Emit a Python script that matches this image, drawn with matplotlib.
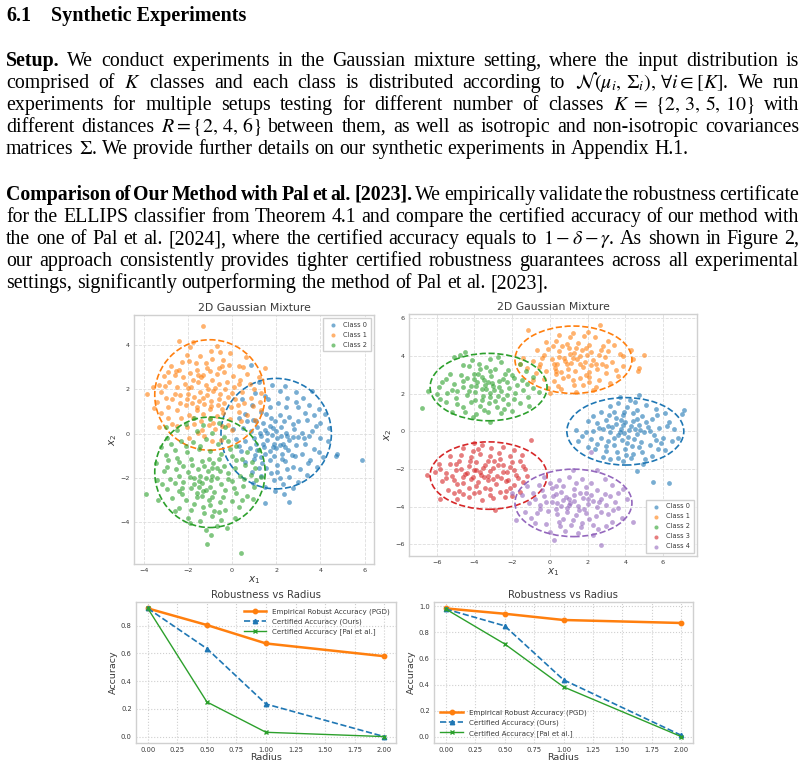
import numpy as np
import matplotlib
matplotlib.use('Agg')
import matplotlib.pyplot as plt
from matplotlib.patches import Ellipse

plt.rcParams['mathtext.fontset'] = 'stix'

W, H = 806, 770

# ---------------- page text ----------------
heading_num = '6.1'
heading = 'Synthetic Experiments'

para1 = [
    'Setup. We conduct experiments in the Gaussian mixture setting, where the input distribution is',
    r'comprised of $K$ classes and each class is distributed according to $\mathcal{N}(\mu_i,\, \Sigma_i),\, \forall i \in [K]$. We run',
    r'experiments for multiple setups testing for different number of classes $K\ =\ \{2,\, 3,\, 5,\, 10\}$ with',
    r'different distances $R = \{2,\, 4,\, 6\}$ between them, as well as isotropic and non-isotropic covariances',
    r'matrices $\Sigma$. We provide further details on our synthetic experiments in Appendix H.1.',
]
para1_bold = 1

para2 = [
    'Comparison of Our Method with Pal et al. [2023]. We empirically validate the robustness certificate',
    'for the ELLIPS classifier from Theorem 4.1 and compare the certified accuracy of our method with',
    r'the one of Pal et al. [2024], where the certified accuracy equals to $1 - \delta - \gamma$. As shown in Figure 2,',
    'our approach consistently provides tighter certified robustness guarantees across all experimental',
    'settings, significantly outperforming the method of Pal et al. [2023].',
]
para2_bold = 9

# ---------------- scatter data ----------------
left_class0 = [
    (0.85, 3.1), (1.2, 2.35), (1.8, 2.2), (2.4, 2.15), (1.05, 1.85), (1.5, 1.7), (2.9, 1.9), (3.6, 1.95),
    (3.2, 1.6), (3.0, 1.2), (2.5, 1.6), (2.1, 1.4), (1.7, 1.2), (1.3, 1.0), (0.9, 1.3), (0.6, 0.9),
    (3.5, 1.3), (3.95, 1.1), (4.2, 0.9), (0.3, 0.7), (0.95, 0.6), (1.4, 0.5), (1.75, 0.7), (2.15, 0.85),
    (2.6, 0.75), (3.0, 0.55), (3.4, 0.6), (3.8, 0.35), (0.5, 0.25), (0.85, 0.1), (1.15, 0.3), (1.5, 0.15),
    (1.85, 0.25), (2.2, 0.3), (2.45, 0.05), (2.8, 0.2), (3.15, 0.05), (3.5, -0.1), (4.0, -0.2), (4.35, -0.35),
    (0.2, -0.25), (0.6, -0.35), (1.0, -0.2), (1.3, -0.1), (1.6, -0.3), (1.8, -0.05), (2.05, -0.2), (2.3, -0.45),
    (2.6, -0.3), (2.9, -0.5), (3.3, -0.45), (3.7, -0.7), (0.4, -0.8), (0.8, -0.65), (1.15, -0.75), (1.45, -0.6),
    (1.7, -0.8), (2.0, -0.65), (2.25, -0.9), (2.55, -0.75), (2.85, -1.0), (3.15, -0.9), (3.55, -1.2), (4.1, -1.05),
    (4.7, -1.0), (4.75, -0.9), (5.9, -1.2), (0.6, -1.3), (1.0, -1.15), (1.35, -1.35), (1.7, -1.2), (2.05, -1.4),
    (2.4, -1.25), (2.75, -1.5), (3.1, -1.6), (3.4, -1.85), (0.9, -1.75), (1.3, -1.9), (1.75, -1.8), (2.15, -2.0),
    (2.6, -1.95), (3.0, -2.2), (1.5, -2.4), (1.95, -2.6), (2.3, -2.3), (2.75, -2.45), (2.6, -3.1), (1.5, -3.15),
    (1.9, -2.1), (1.2, -1.55), (1.6, 0.05), (1.9, -0.45), (2.2, -0.1), (1.4, -0.45), (3.0, -0.15), (2.45, 1.2),
    (3.85, -1.5), (1.1, 0.55), (1.55, 0.9), (1.95, 0.55), (2.35, 0.55), (2.75, 0.45), (1.25, 0.05), (1.7, 0.35),
    (2.0, 0.1), (2.5, -0.1), (2.75, -0.15), (1.1, -0.45), (1.5, -0.9), (1.85, -0.6), (2.15, -0.5), (2.4, -0.6),
    (2.7, -0.95), (1.3, -1.05), (1.9, -1.0), (2.25, -1.15), (1.55, -1.55), (2.5, -1.6), (0.7, 0.55), (0.3, -0.55),
    (3.3, 0.95), (3.7, 0.85), (4.0, 0.5), (3.6, 0.1), (3.25, -0.2), (3.45, -1.35), (0.95, -2.25), (2.35, -2.75),
    (2.9, 1.45), (1.65, 1.55), (2.15, 1.95), (0.45, 1.55), (3.95, -0.85), (4.4, 0.25), (2.05, -1.75), (1.05, -0.95),
    (0.05, 0.2),
]
left_class1 = [
    (-1.3, 4.85), (-2.4, 4.2), (-1.75, 4.15), (-2.05, 3.55), (-1.95, 3.3), (-2.25, 3.25), (-0.95, 3.75), (-0.55, 3.7),
    (-0.4, 3.35), (-0.9, 3.4), (-1.45, 3.5), (-1.2, 3.2), (-2.75, 3.05), (-2.55, 2.85), (-0.15, 3.1), (0.3, 3.05),
    (0.5, 3.0), (1.5, 2.95), (-3.1, 2.6), (-2.85, 2.35), (-3.3, 2.2), (-3.05, 2.15), (-3.6, 2.1), (-3.85, 1.8),
    (-3.2, 1.9), (-2.6, 2.65), (-2.2, 2.55), (-1.9, 2.75), (-1.6, 2.9), (-1.3, 2.65), (-1.0, 2.85), (-0.7, 2.7),
    (-0.35, 2.8), (0.05, 2.6), (0.35, 2.45), (0.8, 2.25), (1.0, 2.0), (1.3, 1.85), (-2.5, 2.1), (-2.15, 2.25),
    (-1.85, 2.1), (-1.55, 2.35), (-1.2, 2.2), (-0.9, 2.45), (-0.6, 2.25), (-0.25, 2.35), (0.1, 2.1), (0.45, 1.9),
    (-2.7, 1.55), (-2.35, 1.75), (-2.0, 1.8), (-1.7, 1.65), (-1.45, 1.9), (-1.15, 1.75), (-0.85, 1.95), (-0.55, 1.8),
    (-0.2, 1.65), (0.15, 1.55), (0.55, 1.4), (0.95, 1.25), (1.25, 1.45), (-2.9, 1.2), (-2.5, 1.05), (-2.1, 1.3),
    (-1.8, 1.4), (-1.5, 1.5), (-1.25, 1.35), (-0.95, 1.5), (-0.65, 1.3), (-0.35, 1.4), (-0.05, 1.2), (0.3, 1.0),
    (0.7, 0.85), (-3.2, 0.95), (-2.3, 0.7), (-1.95, 0.85), (-1.6, 1.05), (-1.3, 0.9), (-1.0, 1.1), (-0.7, 0.8),
    (-0.4, 0.95), (-0.1, 0.65), (0.4, 0.55), (-2.7, 0.45), (-2.05, 0.3), (-1.7, 0.45), (-1.4, 0.55), (-1.05, 0.4),
    (-0.75, 0.2), (-0.45, 0.35), (0.0, 0.15), (-1.95, -0.2), (-1.25, -0.1), (-0.9, -0.35), (-0.5, -0.3), (-1.55, 0.05),
    (-3.3, 0.3), (1.05, 0.6), (1.2, 2.55), (-0.7, 3.95), (-1.1, 2.0), (-0.75, 2.05), (-1.4, 2.55), (-1.75, 2.45),
    (-2.0, 2.05), (-1.6, 1.2), (-1.3, 1.6), (-0.95, 1.25), (-0.6, 1.55), (-0.3, 2.0), (0.0, 1.85), (-2.35, 1.4),
    (-2.6, 1.8), (-2.05, 1.55), (-1.0, 0.7), (-1.75, 0.7), (-0.45, 1.1), (0.25, 1.3), (-2.4, 2.9), (-1.15, 2.95),
    (-0.45, 3.05), (0.7, 2.7), (0.85, 1.6), (-3.0, 1.6), (-3.4, 1.45), (-2.9, 0.7), (-0.2, 0.4), (-1.35, 0.15),
    (-0.6, 2.95), (-1.65, 3.2), (-2.9, 2.8), (0.65, 3.45), (-0.1, 3.65), (-1.9, 3.9), (-2.5, 0.35), (0.3, 2.25),
    (-0.85, 0.5), (-1.55, 2.65), (1.3, 1.05), (-3.55, 1.15),
]
left_class2 = [
    (-1.7, 0.7), (-1.0, 0.65), (-0.6, 0.5), (-2.1, 0.45), (-1.3, 0.4), (-0.3, 0.3), (-2.5, 0.15), (-1.6, 0.1),
    (-0.9, 0.05), (-3.0, 0.3), (-2.95, -0.2), (-2.3, -0.35), (-1.75, -0.4), (-1.2, -0.25), (-0.65, -0.45), (-0.2, -0.35),
    (0.2, -0.55), (0.7, -0.85), (-3.2, -0.6), (-2.6, -0.75), (-2.05, -0.85), (-1.5, -0.7), (-1.0, -0.8), (-0.5, -0.9),
    (0.0, -1.0), (0.45, -1.15), (-3.45, -1.35), (-2.9, -1.2), (-2.4, -1.3), (-1.85, -1.15), (-1.35, -1.25), (-0.85, -1.35),
    (-0.35, -1.45), (0.15, -1.55), (0.6, -1.4), (1.05, -1.55), (-3.1, -1.7), (-2.55, -1.6), (-2.0, -1.75), (-1.55, -1.6),
    (-1.1, -1.7), (-0.7, -1.55), (-0.2, -1.8), (0.35, -1.9), (0.85, -1.85), (1.3, -1.95), (-3.4, -2.1), (-2.8, -2.05),
    (-2.2, -2.2), (-1.7, -2.0), (-1.35, -2.25), (-0.95, -2.1), (-0.5, -2.3), (0.0, -2.15), (0.5, -2.35), (1.0, -2.4),
    (-2.95, -2.5), (-2.4, -2.6), (-1.85, -2.45), (-1.5, -2.4), (-1.2, -2.55), (-0.8, -2.65), (-0.3, -2.55), (0.2, -2.7),
    (0.7, -2.8), (-3.35, -3.0), (-2.7, -2.9), (-2.1, -3.0), (-1.6, -2.85), (-1.05, -3.0), (-0.55, -3.1), (0.0, -3.05),
    (-2.4, -3.35), (-1.85, -3.45), (-1.3, -3.3), (-0.8, -3.5), (-0.3, -3.45), (0.3, -3.3), (-2.0, -3.8), (-1.45, -3.95),
    (-0.9, -3.75), (-0.5, -3.9), (0.15, -3.8), (-1.2, -4.35), (-0.7, -4.2), (-3.9, -2.75), (-1.15, -5.0), (0.4, -5.4),
    (-1.45, -1.9), (-1.25, -1.45), (-0.9, -1.9), (-1.6, -2.7), (-1.35, -2.8), (-0.6, -1.15), (1.2, -0.75), (0.95, -2.95),
    (-2.2, -1.45), (-2.6, -3.5), (-1.2, -2.0), (-1.5, -2.15), (-0.7, -2.0), (-1.0, -2.4), (-1.7, -2.3), (-1.3, -2.6),
    (-0.9, -1.55), (-0.55, -1.7), (-1.8, -1.4), (-1.9, -1.95), (-2.4, -1.9), (-2.25, -2.45), (-0.2, -2.05), (0.2, -1.2),
    (-0.1, -0.7), (-1.45, -0.55), (-2.5, -1.1), (-2.95, -1.5), (-3.15, -2.3), (-2.6, -2.25), (-0.4, -2.85), (-0.9, -2.85),
    (-1.7, -3.2), (-1.0, -3.25), (0.1, -2.45), (0.55, -2.05), (0.9, -1.3), (-2.1, -0.55), (-2.75, -0.45), (-0.35, -0.15),
    (-1.25, -3.6), (-0.6, -3.55), (-2.25, -2.75), (-1.05, -1.15), (0.45, -3.0), (1.1, -2.1), (-3.0, -0.95), (-1.9, -4.05),
    (-0.25, -4.25), (-0.95, -4.6),
]
left_classes = [left_class0, left_class1, left_class2]
left_centers = [(2.0, 0.0), (-1.0, 1.75), (-1.0, -1.75)]
left_diam = 5.0

right_class0 = [
    (5.45, -2.7), (6.3, -2.75), (4.6, -2.1), (7.1, 1.15), (7.0, 0.9), (4.7, 1.95), (3.2, 1.35), (3.6, 1.5),
    (4.1, 1.3), (4.5, 1.55), (5.1, 1.4), (5.6, 1.2), (6.1, 0.95), (2.7, 1.0), (3.4, 1.05), (3.9, 0.85),
    (4.4, 0.95), (4.9, 0.8), (5.4, 0.65), (6.3, 0.5), (6.6, 0.1), (2.0, 0.55), (2.5, 0.45), (3.0, 0.6),
    (3.5, 0.4), (3.75, 0.15), (4.0, 0.5), (4.3, 0.3), (4.75, 0.35), (5.2, 0.25), (5.8, 0.2), (1.4, 0.05),
    (1.9, -0.05), (2.3, 0.0), (2.8, 0.1), (3.2, -0.05), (3.6, -0.2), (3.95, -0.1), (4.2, 0.05), (4.6, -0.15),
    (5.0, -0.05), (5.5, -0.2), (6.0, -0.35), (6.5, -0.5), (1.5, -0.5), (2.2, -0.4), (2.7, -0.35), (3.1, -0.5),
    (3.4, -0.7), (3.8, -0.45), (4.1, -0.6), (4.45, -0.4), (4.85, -0.55), (5.3, -0.7), (5.75, -0.95), (2.4, -0.95),
    (2.95, -1.05), (3.55, -1.1), (4.0, -0.95), (4.4, -1.2), (4.9, -1.1), (5.4, -1.3), (3.2, -1.45), (3.85, -1.6),
    (4.3, -1.4), (4.95, -1.75), (3.5, 0.7), (4.6, 0.65), (3.1, 0.3), (5.6, -0.45), (2.0, -0.85), (6.8, -0.35),
    (3.7, 1.8), (3.3, 0.25), (3.7, -0.05), (4.15, -0.3), (4.5, 0.15), (4.8, 0.05), (3.4, -0.35), (3.85, 0.35),
    (4.35, -0.8), (3.0, -0.8), (4.7, -0.85), (5.1, 0.5), (2.6, 0.2), (5.3, 0.0), (3.95, 1.05), (2.3, 0.8),
    (4.25, 1.65), (5.9, -0.6), (6.2, 0.3), (1.7, -0.25), (3.6, -1.4), (4.6, 1.15), (2.8, -1.35), (5.7, 0.85),
    (3.15, 0.85), (4.05, -1.25), (6.1, -1.0), (5.05, -1.45), (2.5, -0.65), (3.75, 0.6), (4.4, 0.55),
]
right_class1 = [
    (2.65, 5.65), (-1.15, 5.4), (5.0, 4.05), (4.7, 3.35), (4.65, 3.2), (4.4, 3.85), (0.5, 5.1), (1.2, 5.2),
    (1.8, 5.05), (2.4, 5.0), (-0.2, 4.75), (0.3, 4.8), (0.9, 4.65), (1.5, 4.7), (2.1, 4.6), (2.8, 4.55),
    (3.4, 4.6), (-0.7, 4.3), (-0.1, 4.35), (0.5, 4.25), (1.0, 4.4), (1.3, 4.15), (1.7, 4.3), (2.2, 4.2),
    (2.6, 4.05), (3.1, 4.25), (3.7, 4.1), (-1.4, 3.9), (-0.9, 3.75), (-0.4, 3.9), (0.1, 3.85), (0.4, 3.6),
    (0.75, 3.9), (1.1, 3.65), (1.45, 3.85), (1.85, 3.7), (2.3, 3.8), (2.75, 3.6), (3.3, 3.7), (3.9, 3.45),
    (-1.2, 3.35), (-0.6, 3.4), (-0.2, 3.2), (0.25, 3.35), (0.6, 3.15), (0.95, 3.3), (1.35, 3.2), (1.75, 3.4),
    (2.1, 3.15), (2.5, 3.3), (2.95, 3.1), (3.6, 2.95), (-0.9, 2.75), (-0.3, 2.8), (0.2, 2.65), (0.7, 2.85),
    (1.2, 2.7), (1.6, 2.85), (2.05, 2.6), (2.6, 2.7), (3.2, 2.55), (-0.1, 2.3), (0.6, 2.25), (1.4, 2.1),
    (2.3, 2.2), (0.9, 3.55), (1.6, 4.0), (0.3, 3.05), (1.9, 3.0), (2.9, 3.95), (-1.6, 3.6), (0.0, 2.05),
    (4.3, 4.3), (0.8, 3.75), (1.25, 3.9), (1.6, 3.55), (0.5, 3.95), (1.95, 4.05), (0.2, 3.55), (1.05, 4.1),
    (1.4, 4.45), (2.45, 3.55), (0.65, 4.55), (1.9, 4.45), (2.7, 4.3), (-0.5, 3.6), (3.5, 3.25), (2.1, 2.9),
    (0.95, 2.95), (0.45, 2.4), (1.75, 2.45), (-0.3, 4.05), (3.0, 3.45), (2.2, 3.5), (0.15, 4.55), (2.45, 2.35),
    (1.05, 5.0), (3.1, 4.8), (-0.75, 3.1), (0.35, 3.2), (1.3, 2.45), (3.85, 4.0), (2.0, 5.3),
]
right_class2 = [
    (-6.8, 1.25), (-6.45, 2.15), (-4.5, 4.2), (-4.75, 4.05), (-5.1, 3.95), (-3.2, 3.85), (-3.75, 3.6), (-2.6, 3.7),
    (-1.6, 3.6), (-4.3, 3.45), (-3.4, 3.4), (-2.9, 3.3), (-2.2, 3.25), (-1.25, 3.2), (-5.3, 3.05), (-4.7, 3.0),
    (-4.0, 3.05), (-3.6, 2.9), (-3.1, 2.95), (-2.5, 2.8), (-1.9, 2.85), (-0.9, 2.9), (-5.7, 2.6), (-5.1, 2.5),
    (-4.6, 2.65), (-4.2, 2.4), (-3.85, 2.6), (-3.45, 2.45), (-3.05, 2.55), (-2.7, 2.35), (-2.3, 2.6), (-1.75, 2.45),
    (-1.2, 2.5), (-0.6, 2.1), (-6.0, 2.0), (-5.45, 2.05), (-4.9, 2.15), (-4.4, 1.95), (-3.95, 2.1), (-3.55, 1.9),
    (-3.15, 2.05), (-2.75, 1.85), (-2.3, 1.95), (-1.85, 2.05), (-1.15, 1.8), (-5.5, 1.55), (-4.9, 1.45), (-4.2, 1.55),
    (-3.7, 1.35), (-3.25, 1.5), (-2.8, 1.3), (-2.2, 1.45), (-1.6, 1.5), (-5.2, 1.05), (-4.5, 1.0), (-3.9, 0.9),
    (-3.3, 1.05), (-2.6, 0.95), (-2.0, 1.1), (-3.2, 0.5), (-4.1, 0.75), (-3.4, 2.25), (-2.95, 2.2), (-4.6, 3.5),
    (-2.0, 3.0), (-3.8, 3.05), (-1.4, 2.2), (-5.8, 1.7), (-2.5, 1.7), (-4.0, 2.8), (-3.6, 1.65), (-3.3, 2.6),
    (-3.6, 2.25), (-3.0, 2.4), (-3.9, 2.4), (-3.5, 2.75), (-2.6, 2.15), (-4.3, 2.15), (-3.2, 1.8), (-4.6, 2.35),
    (-2.15, 2.3), (-5.2, 2.2), (-2.4, 3.05), (-4.4, 2.85), (-3.2, 3.2), (-5.0, 1.75), (-1.9, 1.7), (-2.9, 1.6),
    (-3.95, 1.65), (-4.6, 1.3), (-2.45, 1.2), (-5.5, 2.8), (-1.5, 2.75), (-3.7, 3.3), (-2.7, 2.65), (-4.15, 3.8),
    (-0.9, 2.3), (-1.1, 1.35), (-3.5, 1.15), (-5.9, 2.35), (-2.75, 3.95),
]
right_class3 = [
    (-6.5, -2.3), (-1.0, -0.45), (-5.8, -3.6), (-2.9, -4.2), (-4.0, -0.6), (-3.6, -0.75), (-4.6, -0.9), (-3.1, -0.9),
    (-2.5, -0.85), (-1.9, -1.0), (-5.3, -1.3), (-4.7, -1.25), (-4.2, -1.35), (-3.7, -1.2), (-3.2, -1.3), (-2.7, -1.15),
    (-2.1, -1.3), (-1.5, -1.25), (-5.9, -1.75), (-5.3, -1.75), (-4.8, -1.6), (-4.3, -1.85), (-3.9, -1.65), (-3.45, -1.8),
    (-2.95, -1.6), (-2.5, -1.8), (-2.0, -1.65), (-1.4, -1.85), (-6.1, -2.15), (-5.5, -2.2), (-5.0, -2.05), (-4.5, -2.25),
    (-4.05, -2.05), (-3.65, -2.3), (-3.2, -2.1), (-2.8, -2.35), (-2.3, -2.15), (-1.8, -2.3), (-1.2, -2.35), (-5.7, -2.65),
    (-5.1, -2.6), (-4.6, -2.75), (-4.2, -2.55), (-3.8, -2.7), (-3.3, -2.6), (-2.85, -2.8), (-2.35, -2.65), (-1.9, -2.85),
    (-1.45, -2.7), (-5.4, -3.1), (-4.8, -3.15), (-4.3, -3.0), (-3.75, -3.2), (-3.2, -3.05), (-2.65, -3.2), (-2.1, -3.0),
    (-1.6, -3.2), (-4.9, -3.6), (-4.3, -3.5), (-3.6, -3.65), (-3.0, -3.55), (-2.4, -3.5), (-3.9, -2.05), (-3.5, -2.45),
    (-4.4, -2.2), (-1.9, -2.05), (-2.6, -2.5), (-5.2, -2.35), (-3.0, -1.95), (-4.0, -3.3), (-3.7, -2.15), (-3.3, -2.35),
    (-4.1, -2.4), (-4.7, -2.0), (-3.0, -2.55), (-2.5, -2.15), (-3.55, -1.95), (-4.25, -1.6), (-2.75, -1.8), (-3.9, -2.9),
    (-3.45, -3.0), (-4.6, -2.45), (-2.2, -2.6), (-2.1, -1.9), (-1.7, -2.5), (-5.5, -2.5), (-4.9, -2.8), (-3.3, -1.55),
    (-2.65, -1.45), (-4.1, -1.05), (-5.0, -1.75), (-1.6, -1.6), (-3.15, -3.4), (-2.35, -3.15), (-4.6, -3.35), (-5.8, -2.0),
    (-1.3, -2.0), (-3.8, -0.95), (-2.0, -3.45), (-5.1, -3.3),
]
right_class4 = [
    (2.7, -6.05), (0.2, -5.75), (-2.0, -3.3), (-1.8, -4.7), (2.2, -1.1), (4.4, -4.8), (1.2, -2.05), (2.5, -2.05),
    (-0.3, -2.4), (0.5, -2.6), (1.0, -2.45), (1.7, -2.55), (2.9, -2.55), (-1.2, -2.9), (-0.6, -2.85), (0.1, -3.0),
    (0.7, -2.9), (1.3, -3.05), (1.9, -2.95), (2.5, -3.1), (3.3, -2.85), (3.9, -3.05), (-1.5, -3.4), (-0.9, -3.3),
    (-0.3, -3.45), (0.3, -3.35), (0.85, -3.5), (1.3, -3.4), (1.75, -3.55), (2.2, -3.4), (2.7, -3.6), (3.2, -3.45),
    (4.1, -3.6), (-1.1, -3.8), (-0.5, -3.9), (0.1, -3.75), (0.6, -3.95), (1.05, -3.8), (1.5, -3.95), (2.0, -3.85),
    (2.5, -4.0), (3.0, -3.9), (3.6, -4.05), (-1.3, -4.3), (-0.7, -4.35), (-0.1, -4.25), (0.4, -4.4), (0.9, -4.3),
    (1.4, -4.45), (1.9, -4.35), (2.45, -4.5), (3.1, -4.4), (3.8, -4.6), (-0.8, -4.85), (-0.2, -4.9), (0.5, -4.8),
    (1.1, -4.95), (1.7, -4.85), (2.3, -5.0), (3.0, -5.05), (0.0, -5.35), (0.8, -5.3), (1.5, -5.4), (2.3, -5.5),
    (1.0, -3.6), (1.6, -3.25), (0.4, -3.8), (2.6, -3.75), (-0.4, -3.1), (1.8, -4.1), (3.3, -4.8), (1.0, -3.9),
    (1.3, -3.7), (0.7, -3.65), (1.55, -4.2), (0.9, -4.05), (2.0, -3.6), (0.35, -4.1), (1.9, -3.3), (2.3, -3.7),
    (0.15, -3.45), (1.2, -4.7), (2.7, -4.3), (-0.5, -4.15), (0.6, -3.2), (2.2, -2.75), (3.45, -3.75), (-0.8, -3.6),
    (1.4, -2.75), (0.3, -2.9), (2.9, -3.35), (-0.2, -3.75), (1.65, -5.1), (0.7, -4.65), (2.1, -4.65), (3.6, -3.3),
    (-1.0, -4.6), (0.0, -2.75), (2.55, -5.2), (0.55, -5.05), (3.35, -4.2),
]
right_classes = [right_class0, right_class1, right_class2, right_class3, right_class4]
right_centers = [(4.0, 0.0), (1.25, 3.8), (-3.25, 2.35), (-3.25, -2.35), (1.25, -3.8)]
right_ell_w, right_ell_h = 6.2, 3.58

class_colors = ['#1f77b4', '#ff7f0e', '#2ca02c', '#d62728', '#9467bd']

# ---------------- robustness curves ----------------
radius = [0.0, 0.5, 1.0, 2.0]
left_pgd = [0.925, 0.805, 0.672, 0.58]
left_ours = [0.925, 0.635, 0.235, 0.0]
left_pal = [0.925, 0.25, 0.031, 0.0]
right_pgd = [0.985, 0.944, 0.896, 0.873]
right_ours = [0.98, 0.851, 0.436, 0.01]
right_pal = [0.98, 0.712, 0.382, 0.0]

GRAY_TXT = '#3a3a3a'
BODY_FS = 14.3


def ax_rect(x0, y0, x1, y1):
    return [x0 / W, 1 - y1 / H, (x1 - x0) / W, (y1 - y0) / H]


def split_words(line):
    # split on spaces, but keep $...$ math in one piece
    parts = line.split(' ')
    words, cur = [], None
    for p in parts:
        cur = p if cur is None else cur + ' ' + p
        if cur.count('$') % 2 == 0:
            words.append(cur)
            cur = None
    return words


def draw_line(fig, rend, line, y, nbold, justify, fs=BODY_FS, x0=6, x1=799):
    words = split_words(line)
    arts = []
    for i, w in enumerate(words):
        t = fig.text(0, 1 - y / H, w, fontsize=fs, family='Liberation Serif',
                     weight='bold' if i < nbold else 'normal', va='baseline', ha='left')
        arts.append(t)
    widths = [a.get_window_extent(rend).width for a in arts]
    if justify and len(words) > 1:
        gap = (x1 - x0 - sum(widths)) / (len(words) - 1)
    else:
        gap = 0.25 * fs * 100 / 72
    x = x0
    for a, w in zip(arts, widths):
        a.set_x(x / W)
        x += w + gap


def style_scatter_ax(ax):
    ax.set_facecolor('white')
    ax.grid(True, color='#dddddd', linestyle='--', linewidth=0.6)
    ax.set_axisbelow(True)
    for s in ax.spines.values():
        s.set_color('#d0d0d0')
        s.set_linewidth(1.0)
    ax.tick_params(length=0, labelsize=4.6, colors=GRAY_TXT, pad=3)
    ax.set_xlabel('$x_1$', fontsize=7.5, color=GRAY_TXT, labelpad=1, math_fontfamily='dejavusans')
    ax.set_ylabel('$x_2$', fontsize=7.5, color=GRAY_TXT, labelpad=1, math_fontfamily='dejavusans')
    ax.set_title('2D Gaussian Mixture', fontsize=7.8, color=GRAY_TXT, pad=3)


def style_line_ax(ax):
    ax.set_facecolor('white')
    ax.grid(True, color='#cfcfcf', linestyle=':', linewidth=0.8)
    ax.set_axisbelow(True)
    for s in ax.spines.values():
        s.set_color('#d0d0d0')
        s.set_linewidth(1.0)
    ax.tick_params(length=0, labelsize=4.9, colors=GRAY_TXT, pad=3)
    ax.set_xlabel('Radius', fontsize=6.8, color=GRAY_TXT, labelpad=0)
    ax.set_ylabel('Accuracy', fontsize=6.8, color=GRAY_TXT, labelpad=2)
    ax.set_title('Robustness vs Radius', fontsize=7.3, color=GRAY_TXT, pad=3)


def main():
    fig = plt.figure(figsize=(W / 100, H / 100), dpi=100)
    rend = fig.canvas.get_renderer()

    # heading
    fig.text(6 / W, 1 - 21 / H, heading_num, fontsize=14.5, family='Liberation Serif',
             weight='bold', va='baseline')
    fig.text(51 / W, 1 - 21 / H, heading, fontsize=14.5, family='Liberation Serif',
             weight='bold', va='baseline')

    for i, line in enumerate(para1):
        draw_line(fig, rend, line, 66 + 22 * i, para1_bold if i == 0 else 0, i < len(para1) - 1)
    for i, line in enumerate(para2):
        draw_line(fig, rend, line, 200 + 22 * i, para2_bold if i == 0 else 0, i < len(para2) - 1)

    # left scatter
    ax1 = fig.add_axes(ax_rect(134, 315, 374, 564))
    style_scatter_ax(ax1)
    for k, pts in enumerate(left_classes):
        p = np.array(pts)
        ax1.scatter(p[:, 0], p[:, 1], s=12, color=class_colors[k], alpha=0.6,
                    linewidths=0, label='Class %d' % k)
        ax1.add_patch(Ellipse(left_centers[k], left_diam, left_diam, fill=False,
                              edgecolor=class_colors[k], linestyle='--', linewidth=1.2))
    ax1.set_xlim(-4.44, 6.43)
    ax1.set_ylim(-5.9, 5.37)
    ax1.set_xticks([-4, -2, 0, 2, 4, 6])
    ax1.set_yticks([-4, -2, 0, 2, 4])
    ax1.legend(loc='upper right', fontsize=4.8, frameon=True, edgecolor='#d0d0d0',
               framealpha=1, fancybox=False, borderpad=0.5, handletextpad=0.6,
               labelcolor=GRAY_TXT, markerscale=0.85, labelspacing=0.6)

    # right scatter
    ax2 = fig.add_axes(ax_rect(409, 314, 697, 556))
    style_scatter_ax(ax2)
    for k, pts in enumerate(right_classes):
        p = np.array(pts)
        ax2.scatter(p[:, 0], p[:, 1], s=12, color=class_colors[k], alpha=0.6,
                    linewidths=0, label='Class %d' % k)
        ax2.add_patch(Ellipse(right_centers[k], right_ell_w, right_ell_h, fill=False,
                              edgecolor=class_colors[k], linestyle='--', linewidth=1.2))
    ax2.set_xlim(-7.47, 7.8)
    ax2.set_ylim(-6.62, 6.23)
    ax2.set_xticks([-6, -4, -2, 0, 2, 4, 6])
    ax2.set_yticks([-6, -4, -2, 0, 2, 4, 6])
    ax2.legend(loc='lower right', fontsize=4.8, frameon=True, edgecolor='#d0d0d0',
               framealpha=1, fancybox=False, borderpad=0.5, handletextpad=0.6,
               labelcolor=GRAY_TXT, markerscale=0.85, labelspacing=0.6)

    # robustness plots
    for rect, pgd, ours, pal, loc in [
        (ax_rect(136, 602, 396, 743), left_pgd, left_ours, left_pal, 'upper right'),
        (ax_rect(434, 602, 693, 743), right_pgd, right_ours, right_pal, 'lower left'),
    ]:
        ax = fig.add_axes(rect)
        style_line_ax(ax)
        ax.plot(radius, pgd, '-o', color='#ff7f0e', linewidth=1.8, markersize=3.2,
                label='Empirical Robust Accuracy (PGD)')
        ax.plot(radius, ours, '--^', color='#1f77b4', linewidth=1.2, markersize=3.2,
                label='Certified Accuracy (Ours)')
        ax.plot(radius, pal, '-x', color='#2ca02c', linewidth=1.0, markersize=3.2,
                markeredgewidth=1.0, label='Certified Accuracy [Pal et al.]')
        ax.set_xticks([0.0, 0.25, 0.5, 0.75, 1.0, 1.25, 1.5, 1.75, 2.0])
        ax.set_xticklabels(['0.00', '0.25', '0.50', '0.75', '1.00', '1.25', '1.50', '1.75', '2.00'])
        ax.set_xlim(-0.1, 2.1)
        lo, hi = min(min(ours), min(pal)), max(pgd)
        pad = 0.05 * (hi - lo)
        ax.set_ylim(lo - pad, hi + pad)
        ax.legend(loc=loc, fontsize=5.1, frameon=False, labelcolor=GRAY_TXT,
                  handlelength=3.2, labelspacing=0.5)

    fig.savefig('out.png', dpi=100)


if __name__ == '__main__':
    main()
